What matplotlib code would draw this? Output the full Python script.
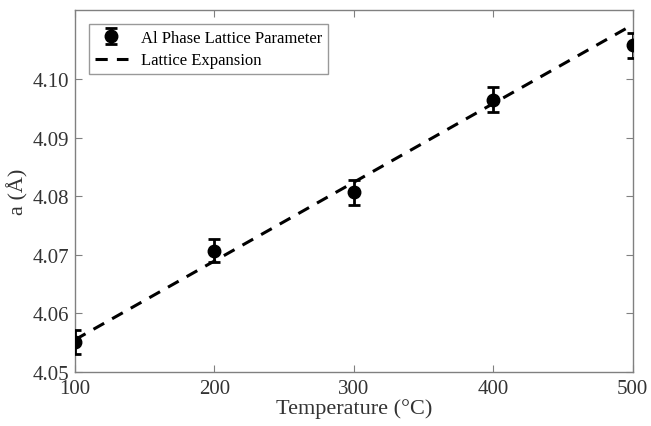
import matplotlib
matplotlib.use("Agg")
import matplotlib.pyplot as plt

# measured lattice parameter of the Al phase
temperature = [100, 200, 300, 400, 500]
lattice_a = [4.0551, 4.0707, 4.0807, 4.0965, 4.1058]
lattice_err = [0.0021, 0.0020, 0.0021, 0.0021, 0.0021]

# linear thermal expansion fit, end points
fit_T = [100, 500]
fit_a = [4.0555, 4.1093]

plt.rcParams["font.family"] = ["Liberation Serif", "DejaVu Serif"]

fig = plt.figure(figsize=(6.51, 4.27), dpi=100)
ax = fig.add_axes([0.115, 0.1265, 0.857, 0.8475])

eb = ax.errorbar(temperature, lattice_a, yerr=lattice_err, fmt="o", color="black",
                 markersize=9, elinewidth=2, capsize=4, capthick=2, zorder=3)
ln, = ax.plot(fit_T, fit_a, "--", color="black", lw=2.2, dashes=(4, 3))

ax.set_xlim(100, 500)
ax.set_ylim(4.05, 4.1118)
ax.set_xticks([100, 200, 300, 400, 500])
ax.set_yticks([4.05, 4.06, 4.07, 4.08, 4.09, 4.10])
ax.set_yticklabels([f"{v:.2f}" for v in ax.get_yticks()])

grey = "#808080"
for s in ax.spines.values():
    s.set_color(grey)
    s.set_linewidth(1.0)
ax.tick_params(direction="in", top=True, right=True, color=grey,
               length=5, labelsize=15, labelcolor="#333333")
ax.tick_params(axis="y", pad=4)
ax.tick_params(axis="x", pad=5)

ax.set_xlabel("Temperature (°C)", fontsize=16, color="#333333", labelpad=0)
ax.set_ylabel("a (Å)", fontsize=16, color="#333333", labelpad=3)

leg = ax.legend([eb, ln], ["Al Phase Lattice Parameter", "Lattice Expansion"],
                loc="upper left", fontsize=12, frameon=True, fancybox=False,
                edgecolor=grey, borderpad=0.35, labelspacing=0.4,
                handlelength=2.0, bbox_to_anchor=(0.01, 0.985))
leg.get_frame().set_linewidth(1.0)

fig.savefig("out.png", dpi=100)
